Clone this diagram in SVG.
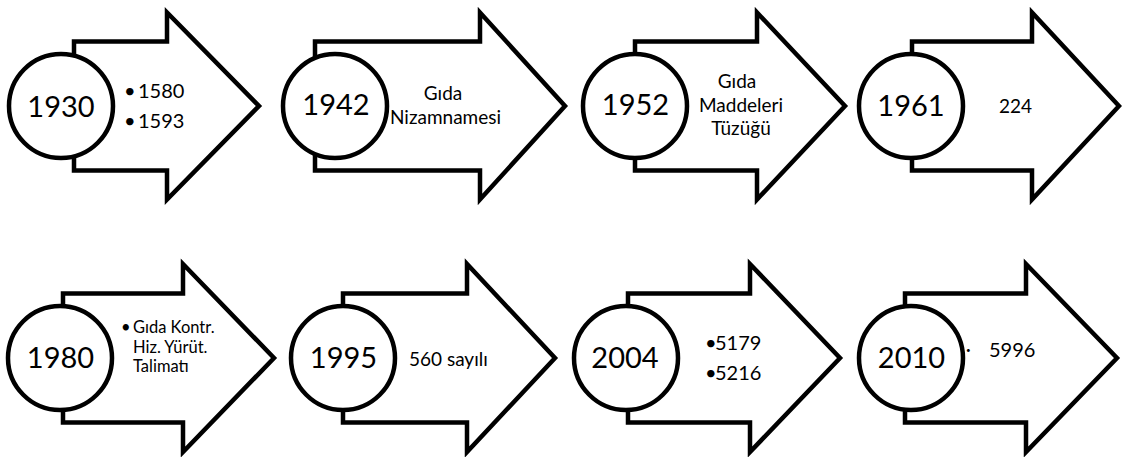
<svg xmlns="http://www.w3.org/2000/svg" width="1122" height="457" viewBox="0 0 1122 457">
  <style>
    .arrow { fill: #fff; stroke: #000; stroke-width: 4.5; stroke-linejoin: miter; stroke-miterlimit: 10; }
    .badge { fill: #fff; stroke: #000; stroke-width: 4.5; }
    .year { font-family: Lato, "Open Sans", sans-serif; font-size: 29px; fill: #000; text-anchor: middle; }
    .note { font-family: Lato, "Open Sans", sans-serif; font-size: 19px; fill: #000; }
    .mid { text-anchor: middle; }
    .sm { font-size: 16.5px; }
  </style>
  <rect width="1122" height="457" fill="#fff"/>

  <!-- Row 1 -->
  <g id="step-1930">
    <path class="arrow" d="M74 41.5 H167 V12.5 L259 106 L167 199.5 V170.5 H74 Z"/>
    <text class="note" style="font-size:20px" x="124" y="98">•<tspan x="138">1580</tspan></text>
    <text class="note" style="font-size:20px" x="124" y="128">•<tspan x="138">1593</tspan></text>
    <circle class="badge" cx="61" cy="106" r="52"/>
    <text class="year" x="61" y="117">1930</text>
  </g>

  <g id="step-1942">
    <path class="arrow" d="M315 41.5 H480 V12.5 L565 106 L480 199.5 V170.5 H315 Z"/>
    <text class="note mid" x="443" y="100">Gıda</text>
    <text class="note mid" x="445.5" y="124">Nizamnamesi</text>
    <circle class="badge" cx="335" cy="106" r="52"/>
    <text class="year" x="336" y="115">1942</text>
  </g>

  <g id="step-1952">
    <path class="arrow" d="M635 41.5 H757 V12.5 L845 106 L757 199.5 V170.5 H635 Z"/>
    <text class="note mid" x="737" y="88">Gıda</text>
    <text class="note mid" x="741" y="112">Maddeleri</text>
    <text class="note mid" x="741" y="135">Tüzüğü</text>
    <circle class="badge" cx="635" cy="106" r="52"/>
    <text class="year" x="635.5" y="115">1952</text>
  </g>

  <g id="step-1961">
    <path class="arrow" d="M912 41.5 H1032 V12.5 L1119 106 L1032 199.5 V170.5 H912 Z"/>
    <text class="note" x="999" y="113">224</text>
    <circle class="badge" cx="911" cy="106" r="52"/>
    <text class="year" x="911" y="116">1961</text>
  </g>

  <!-- Row 2 -->
  <g id="step-1980">
    <path class="arrow" d="M63 293.5 H183 V264 L274 358 L183 452 V422.5 H63 Z"/>
    <text class="note sm" x="121" y="333">•</text>
    <text class="note sm" x="133" y="333">Gıda Kontr.</text>
    <text class="note sm" x="133" y="353">Hiz. Yürüt.</text>
    <text class="note sm" x="133" y="372">Talimatı</text>
    <circle class="badge" cx="60" cy="358" r="52"/>
    <text class="year" x="60.5" y="368">1980</text>
  </g>

  <g id="step-1995">
    <path class="arrow" d="M343 293.5 H467 V264 L555 358 L467 452 V422.5 H343 Z"/>
    <text class="note" x="409" y="366">560 sayılı</text>
    <circle class="badge" cx="343" cy="358" r="52"/>
    <text class="year" x="343.5" y="368">1995</text>
  </g>

  <g id="step-2004">
    <path class="arrow" d="M628 293.5 H750 V264 L840 358 L750 452 V422.5 H628 Z"/>
    <text class="note" style="font-size:20px" x="705" y="350">•<tspan x="715">5179</tspan></text>
    <text class="note" style="font-size:20px" x="705" y="380">•<tspan x="715">5216</tspan></text>
    <circle class="badge" cx="626" cy="358" r="52"/>
    <text class="year" x="625" y="368">2004</text>
  </g>

  <g id="step-2010">
    <path class="arrow" d="M905 293.5 H1026 V264 L1117 358 L1026 452 V422.5 H905 Z"/>
    <text class="note" style="font-size:8px" x="966" y="353">•</text>
    <text class="note" style="font-size:20px" x="989" y="357">5996</text>
    <circle class="badge" cx="911" cy="358" r="52"/>
    <text class="year" x="911.5" y="368">2010</text>
  </g>

  <!-- no separate connectors: each step is a self-contained arrow -->
  <g id="connectors"/>
</svg>
